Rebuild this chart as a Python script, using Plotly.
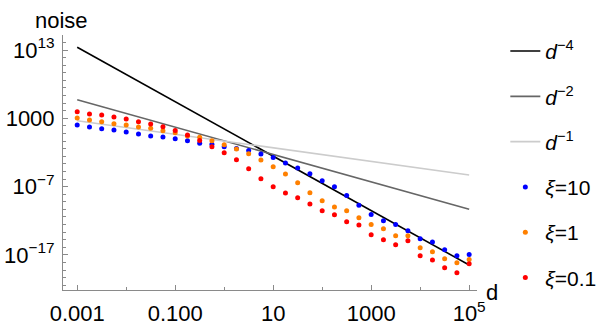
import plotly.graph_objects as go

# spacing d (log grid, 4 points per decade)
d_vals = [1e-3, 1.78e-3, 3.16e-3, 5.62e-3, 1e-2, 1.78e-2, 3.16e-2, 5.62e-2,
          0.1, 0.178, 0.316, 0.562, 1, 1.78, 3.16, 5.62,
          10, 17.8, 31.6, 56.2, 100, 178, 316, 562,
          1e3, 1.78e3, 3.16e3, 5.62e3, 1e4, 1.78e4, 3.16e4, 5.62e4, 1e5]

noise_xi10 = [1.05e2, 5.4e1, 3.0e1, 1.95e1, 9.8, 5.0, 2.6, 1.8,
              1.02, 0.52, 0.22, 0.155, 6.9e-2, 3.8e-2, 1.95e-2, 5.9e-3,
              1.8e-3, 2.9e-4, 5.2e-5, 7.4e-6, 7.2e-7, 9.3e-8, 5.0e-9, 1.8e-10,
              7.9e-12, 9.8e-13, 2.8e-13, 3.4e-14, 2.3e-15, 7.9e-16, 5.8e-17, 7.6e-18, 1.15e-17]
noise_xi1 = [1.1e3, 5.6e2, 3.2e2, 1.6e2, 1.05e2, 5.4e1, 3.5e1, 1.5e1,
             7.8, 2.6, 1.66, 0.52, 0.135, 3.2e-2, 6.3e-3, 7.8e-4,
             8.1e-5, 6.9e-6, 3.7e-7, 1.3e-8, 8.7e-10, 1.0e-10, 2.9e-11, 2.8e-12,
             2.8e-13, 6.6e-14, 6.3e-15, 6.5e-15, 1.1e-16, 3.0e-17, 2.7e-18, 7.2e-19, 2.1e-18]
noise_xi01 = [9.3e3, 4.3e3, 3.0e3, 1.55e3, 7.9e2, 3.2e2, 1.5e2, 5.9e1,
              1.6e1, 3.5, 0.56, 6.9e-2, 8.9e-3, 8.3e-4, 4.2e-5, 1.4e-6,
              9.8e-8, 1.2e-8, 2.3e-9, 2.8e-10, 2.9e-11, 7.4e-12, 7.2e-13, 2.4e-13,
              9.1e-15, 1.6e-15, 3.0e-16, 1.15e-15, 7.6e-18, 1.8e-18, 1.35e-19, 2.45e-20, 5.1e-19]

# reference power laws (end points)
ref_d = [1e-3, 1e5]
ref_d4 = [2.5e13, 3.3e-19]
ref_d2 = [5.2e5, 4.8e-11]
ref_d1 = [4.5e2, 5.0e-6]

x_tickvals = [1e-3, 0.1, 10, 1e3, 1e5]
x_ticktext = ["0.001", "0.100", "10", "1000", "10<sup>5</sup>"]
y_tickvals = [1e13, 1e3, 1e-7, 1e-17]
y_ticktext = ["10<sup>13</sup>", "1000", "10<sup>\u22127</sup>", "10<sup>\u221217</sup>"]

FONT = "Liberation Sans, Arial, sans-serif"
AXIS = "#8a8a8a"

fig = go.Figure()
lines = [
    (ref_d4, "black", "<i>d</i><sup>\u22124</sup>"),
    (ref_d2, "#666666", "<i>d</i><sup>\u22122</sup>"),
    (ref_d1, "#cccccc", "<i>d</i><sup>\u22121</sup>"),
]
for i, (vals, color, name) in enumerate(lines):
    fig.add_trace(go.Scatter(x=ref_d, y=vals, mode="lines", line=dict(color=color, width=1.6),
                             name=name, legendgroup=f"g{i}"))

points = [
    (noise_xi10, "#0000ff", "<i>\u03be</i>=10"),
    (noise_xi1, "#ff8000", "<i>\u03be</i>=1"),
    (noise_xi01, "#ff0000", "<i>\u03be</i>=0.1"),
]
for i, (vals, color, name) in enumerate(points):
    fig.add_trace(go.Scatter(x=d_vals, y=vals, mode="markers", marker=dict(color=color, size=5),
                             name=name, legendgroup=f"p{i}"))

fig.update_layout(
    width=614,
    height=325,
    margin=dict(l=63, r=137, t=35, b=35),
    paper_bgcolor="white",
    plot_bgcolor="white",
    font=dict(family=FONT, size=22, color="black"),
    xaxis=dict(
        type="log", range=[-3.29, 5.16], automargin=False,
        tickvals=x_tickvals, ticktext=x_ticktext,
        showline=True, linecolor=AXIS, linewidth=1,
        ticks="inside", ticklen=5, tickcolor=AXIS,
        minor=dict(dtick=1, ticks="inside", ticklen=3, tickcolor=AXIS),
        showgrid=False, zeroline=False,
        tickfont=dict(size=22), ticklabelstandoff=4,
    ),
    yaxis=dict(
        type="log", range=[-22.14, 15.2], automargin=False,
        tickvals=y_tickvals, ticktext=y_ticktext,
        showline=True, linecolor=AXIS, linewidth=1,
        ticks="inside", ticklen=5, tickcolor=AXIS,
        minor=dict(dtick=10 / 9, tick0=13, ticks="inside", ticklen=3, tickcolor=AXIS),
        showgrid=False, zeroline=False,
        tickfont=dict(size=22), ticklabelstandoff=3,
    ),
    legend=dict(
        xref="container", yref="container", x=0.823, y=0.905,
        xanchor="left", yanchor="top",
        font=dict(size=21), tracegroupgap=15, maxheight=320,
        bgcolor="rgba(0,0,0,0)",
    ),
    annotations=[
        dict(text="noise", xref="paper", yref="paper", x=-0.0725, y=1.0588,
             xanchor="left", yanchor="middle", showarrow=False, font=dict(size=22)),
        dict(text="d", xref="paper", yref="paper", x=1.017, y=-0.008,
             xanchor="left", yanchor="middle", showarrow=False, font=dict(size=22)),
    ],
)

fig.write_html("out.html", config={"displayModeBar": False},
               post_script="document.body.style.margin='0';")
